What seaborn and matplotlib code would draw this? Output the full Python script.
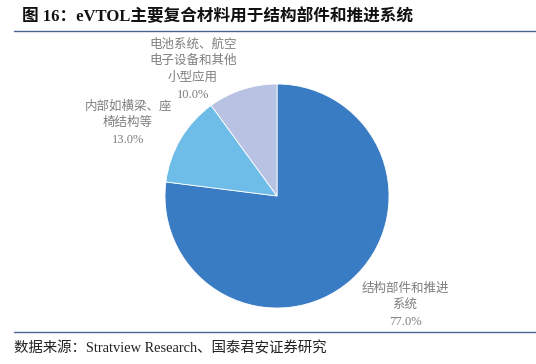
import matplotlib
matplotlib.use("Agg")
import matplotlib.pyplot as plt
import seaborn as sns
from matplotlib.lines import Line2D

sns.set_theme(style="white")
plt.rcParams['font.family'] = ['Noto Sans CJK SC', 'DejaVu Sans']

categories = ["结构部件和推进\n系统", "内部如横梁、座\n椅结构等", "电池系统、航空\n电子设备和其他\n小型应用"]
values = [77.0, 13.0, 10.0]
colors = ["#3A7CC3", "#6EBDE8", "#B8C2E3"]
title = "图 16：eVTOL主要复合材料用于结构部件和推进系统"
source = "数据来源：Stratview Research、国泰君安证券研究"

W, H = 536, 364
fig = plt.figure(figsize=(W / 100, H / 100), dpi=100)
ax = fig.add_axes([0, 0, 1, 1])

cx, cy, r = 277, 196, 112
wedges, _ = ax.pie(values, colors=colors, startangle=90, counterclock=False,
                   wedgeprops=dict(edgecolor="white", linewidth=0.6))
ax.set_xlim(-cx / r, (W - cx) / r)
ax.set_ylim(-(H - cy) / r, cy / r)
ax.set_aspect('auto')
ax.axis('off')

label_pos = [(1.143, -0.975), (-1.33, 0.652), (-0.75, 1.13)]
for cat, v, (x, y) in zip(categories, values, label_pos):
    ax.text(x, y, f"{cat}\n{v:.1f}%", ha="center", va="center", fontsize=9,
            color="#7F7F7F", linespacing=1.5,
            family=['Liberation Serif', 'Noto Sans CJK SC'])

line_color = "#4A6592"
fig.add_artist(Line2D([14 / W, 1], [1 - 31 / H, 1 - 31 / H], color=line_color, lw=1.0))
fig.add_artist(Line2D([14 / W, 1], [1 - 332 / H, 1 - 332 / H], color=line_color, lw=1.0))

fig.text(22 / W, 1 - 17 / H, title, ha="left", va="center", fontsize=12,
         fontweight="bold", color="#111111",
         family=['Liberation Serif', 'Noto Sans CJK SC'])
fig.text(14 / W, 1 - 348 / H, source, ha="left", va="center", fontsize=10.4,
         color="#222222", family=['Liberation Serif', 'Noto Sans CJK SC'])

fig.savefig("out.png", dpi=100)
